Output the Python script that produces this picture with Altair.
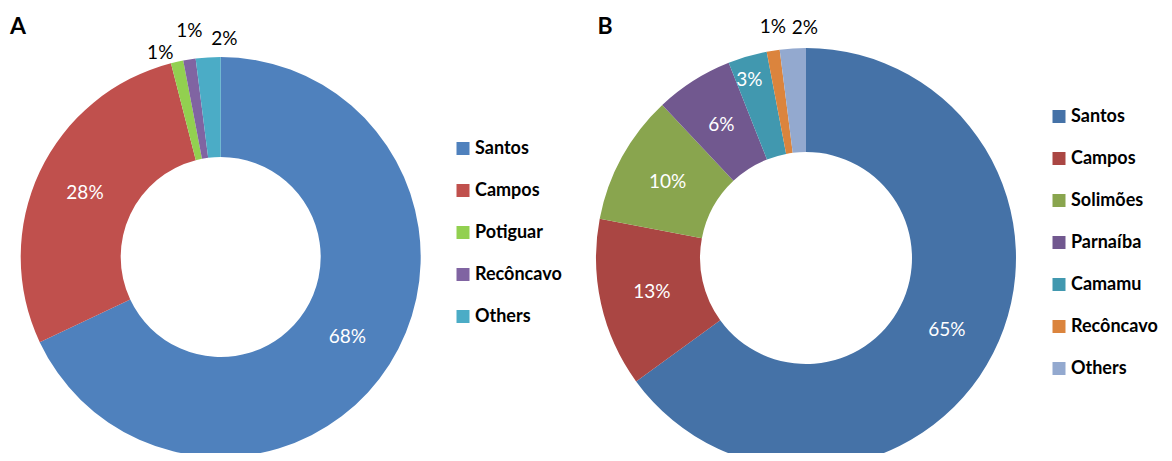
import altair as alt
import pandas as pd
import math

# ---------------- data ----------------
a_categories = ["Santos", "Campos", "Potiguar", "Recôncavo", "Others"]
a_values = [68, 28, 1, 1, 2]
a_labels = ["68%", "28%", "1%", "1%", "2%"]

b_categories = ["Santos", "Campos", "Solimões", "Parnaíba", "Camamu", "Recôncavo", "Others"]
b_values = [65, 13, 10, 6, 3, 1, 2]
b_labels = ["65%", "13%", "10%", "6%", "3%", "1%", "2%"]

panel_letters = ["A", "B"]

# ---------------- styles ----------------
a_colors = ["#4F81BD", "#C0504D", "#92D050", "#8064A2", "#4BACC6"]
b_colors = ["#4572A7", "#AA4643", "#89A54E", "#71588F", "#4198AF", "#DB843D", "#93A9CF"]

FONT = "Lato"
W, H = 1156, 445

# label style per category: (radius, dx, dy, colour)
a_label_style = {
    "Santos": (150, 0, 0, "white"),
    "Campos": (150, 0, 0, "white"),
    "Potiguar": (213, -14, 4, "black"),
    "Recôncavo": (213, 2, -16, "black"),
    "Others": (213, 17, -5, "black"),
}
b_label_style = {
    "Santos": (158, 0, 0, "white"),
    "Campos": (158, 0, 0, "white"),
    "Solimões": (158, 0, 0, "white"),
    "Parnaíba": (158, 0, 0, "white"),
    "Camamu": (185, -5, 0, "white"),
    "Recôncavo": (225, 2, -9, "black"),
    "Others": (225, 13, -5, "black"),
}

theta_scale = alt.Scale(domain=[0, 100], range=[0, 2 * math.pi])


def panel(cats, vals, labels, colors, cx, cy, r_out, r_in, lstyle, legx, legy):
    df = pd.DataFrame({"cat": cats, "value": vals, "label": labels, "idx": list(range(len(cats)))})
    base = (
        alt.Chart(df)
        .transform_stack(stack="value", groupby=[], as_=["s0", "s1"],
                         sort=[alt.SortField("idx", order="ascending")])
        .transform_calculate(mid="(datum.s0 + datum.s1) / 2")
    )
    arcs = base.mark_arc(innerRadius=r_in, outerRadius=r_out, stroke=None).encode(
        x=alt.value(cx),
        y=alt.value(cy),
        theta=alt.Theta("s0:Q", scale=theta_scale),
        theta2="s1:Q",
        color=alt.Color(
            "cat:N",
            scale=alt.Scale(domain=cats, range=colors),
            sort=cats,
            legend=alt.Legend(
                title=None, orient="none", legendX=legx, legendY=legy,
                symbolType="square", symbolSize=169, symbolStrokeWidth=0,
                labelFont=FONT, labelFontSize=18, labelFontWeight="bold",
                labelColor="black", rowPadding=24, labelOffset=3, padding=0,
                labelLimit=300,
            ),
        ),
    )
    layers = [arcs]
    for c in cats:
        r, dx, dy, col = lstyle[c]
        t = base.transform_filter(alt.datum.cat == c).mark_text(
            font=FONT, fontSize=19, color=col, dx=dx, dy=dy, align="center", baseline="middle"
        ).encode(
            x=alt.value(cx),
            y=alt.value(cy),
            theta=alt.Theta("mid:Q", scale=theta_scale),
            radius=alt.value(r),
            text="label:N",
        )
        layers.append(t)
    return layers


layers_a = panel(a_categories, a_values, a_labels, a_colors, 212.7, 249, 200, 100,
                 a_label_style, 446, 131.5)
layers_b = panel(b_categories, b_values, b_labels, b_colors, 798, 250, 210, 106,
                 b_label_style, 1042, 99.5)

letters_df = pd.DataFrame({"letter": panel_letters, "px": [10, 597]})
letters = alt.Chart(letters_df).mark_text(
    font=FONT, fontSize=23, fontWeight="bold", color="black", align="center", baseline="middle"
).encode(
    x=alt.X("px:Q", scale=alt.Scale(domain=[0, W], range=[0, W]), axis=None),
    y=alt.value(19),
    text="letter:N",
)

chart = (
    alt.layer(*layers_a, *layers_b, letters)
    .resolve_scale(color="independent", theta="independent", x="independent")
    .resolve_legend(color="independent")
    .properties(width=W, height=H, autosize="none", padding=0)
    .configure_view(stroke=None)
)

chart.save("out.html", embed_options={"renderer": "svg", "actions": False})
